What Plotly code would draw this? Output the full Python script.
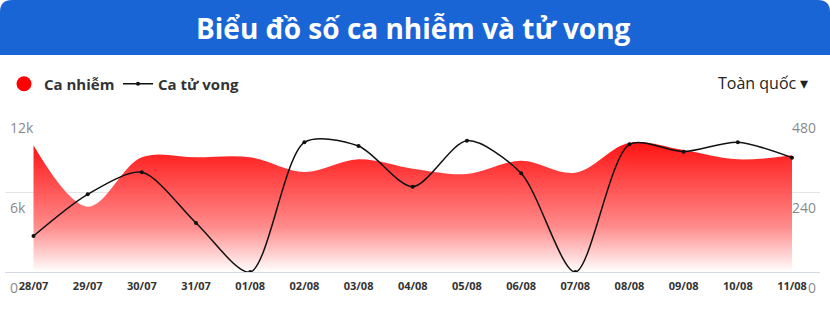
import plotly.graph_objects as go

# ---- data ----
dates = ["28/07", "29/07", "30/07", "31/07", "01/08", "02/08", "03/08", "04/08",
         "05/08", "06/08", "07/08", "08/08", "09/08", "10/08", "11/08"]
infected = [9500, 4900, 8600, 8600, 8600, 7500, 8450, 7750,
            7350, 8350, 7450, 9700, 9150, 8450, 8750]
deaths = [108, 233, 299, 147, 0, 389, 378, 256,
          394, 296, 0, 383, 361, 389, 343]
left_ticks = [0, 6000, 12000]
left_labels = ["0", "6k", "12k"]
right_ticks = [0, 240, 480]
right_labels = ["0", "240", "480"]

title_text = "Biểu đồ số ca nhiễm và tử vong"
region_text = "Toàn quốc ▾"

W, H = 830, 313
ML, MR, MT, MB = 5, 10, 112, 41
PW, PH = W - ML - MR, H - MT - MB


def px(x):
    return (x - ML) / PW


def py(y):
    return (H - MB - y) / PH


FONT = "Open Sans"
TICK_FONT = dict(family=FONT, size=14, color="#8a8a8a")

fig = go.Figure()

fig.add_trace(go.Scatter(
    x=dates, y=infected, name="Ca nhiễm", mode="lines",
    line=dict(width=0, shape="spline", smoothing=1.0, color="#ff0000"),
    fill="tozeroy",
    fillgradient=dict(type="vertical",
                      colorscale=[[0, "rgba(255,255,255,0.95)"],
                                  [0.35, "rgba(255,130,130,0.93)"],
                                  [1, "rgba(255,0,0,0.93)"]]),
    showlegend=False, hoverinfo="skip",
))
# legend entry for infected (red dot)
fig.add_trace(go.Scatter(
    x=[None], y=[None], name="Ca nhiễm", mode="markers",
    marker=dict(color="#ff0000", size=15), legend="legend",
))
fig.add_trace(go.Scatter(
    x=dates, y=deaths, name="Ca tử vong", mode="lines+markers", yaxis="y2",
    line=dict(color="#111111", width=1.5, shape="spline", smoothing=0.8),
    marker=dict(color="#111111", size=4), legend="legend2",
))

# header banner with rounded top corners
r = 12
x0, x1 = px(0), px(W)
y0, y1 = py(55), py(0)
rx, ry = r / PW, r / PH
path = (f"M {x0},{y0} L {x0},{y1 - ry} Q {x0},{y1} {x0 + rx},{y1} "
        f"L {x1 - rx},{y1} Q {x1},{y1} {x1},{y1 - ry} L {x1},{y0} Z")
fig.add_shape(type="path", path=path, xref="paper", yref="paper",
              fillcolor="#1a65d6", line=dict(width=0), layer="below")

fig.add_annotation(x=px(413), y=py(28), xref="paper", yref="paper",
                   text=f"<b>{title_text}</b>", showarrow=False,
                   font=dict(family=FONT, size=28, color="white"),
                   xanchor="center", yanchor="middle")
fig.add_annotation(x=px(810), y=py(83), xref="paper", yref="paper",
                   text=region_text, showarrow=False,
                   font=dict(family=FONT, size=16, color="#222222"),
                   xanchor="right", yanchor="middle")

# y tick labels sit just below their grid lines
for v, lab in zip(left_ticks, left_labels):
    fig.add_annotation(x=px(8), y=v, xref="paper", yref="y", text=lab,
                       showarrow=False, xanchor="left", yanchor="middle",
                       yshift=-15, font=TICK_FONT)
for v, lab in zip(right_ticks, right_labels):
    fig.add_annotation(x=px(818), y=v, xref="paper", yref="y2", text=lab,
                       showarrow=False, xanchor="right", yanchor="middle",
                       yshift=-15, font=TICK_FONT)

legend_common = dict(orientation="h", xref="container", yref="container",
                     y=1 - 84 / H, xanchor="left", yanchor="middle",
                     font=dict(family=FONT, size=15, color="#333333", weight="bold"),
                     bgcolor="rgba(0,0,0,0)")

fig.update_layout(
    width=W, height=H, autosize=False,
    margin=dict(l=ML, r=MR, t=MT, b=MB),
    paper_bgcolor="white", plot_bgcolor="white",
    font=dict(family=FONT),
    showlegend=True,
    legend=dict(x=4 / W, **legend_common),
    legend2=dict(x=118 / W, **legend_common),
    xaxis=dict(type="category", range=[-0.526, 14.517], showgrid=False,
               showline=True, linecolor="#d3d9e6", linewidth=1, ticks="",
               zeroline=False, ticklabelstandoff=4,
               tickfont=dict(family=FONT, size=11, color="#333333", weight="bold")),
    yaxis=dict(range=[0, 12000], tickvals=left_ticks, showticklabels=False,
               gridcolor="#e4e4e4", gridwidth=1, zeroline=False, ticks=""),
    yaxis2=dict(range=[0, 480], tickvals=right_ticks, showticklabels=False,
                overlaying="y", side="right", showgrid=False, zeroline=False,
                ticks=""),
)

fig.write_html("out.html")
